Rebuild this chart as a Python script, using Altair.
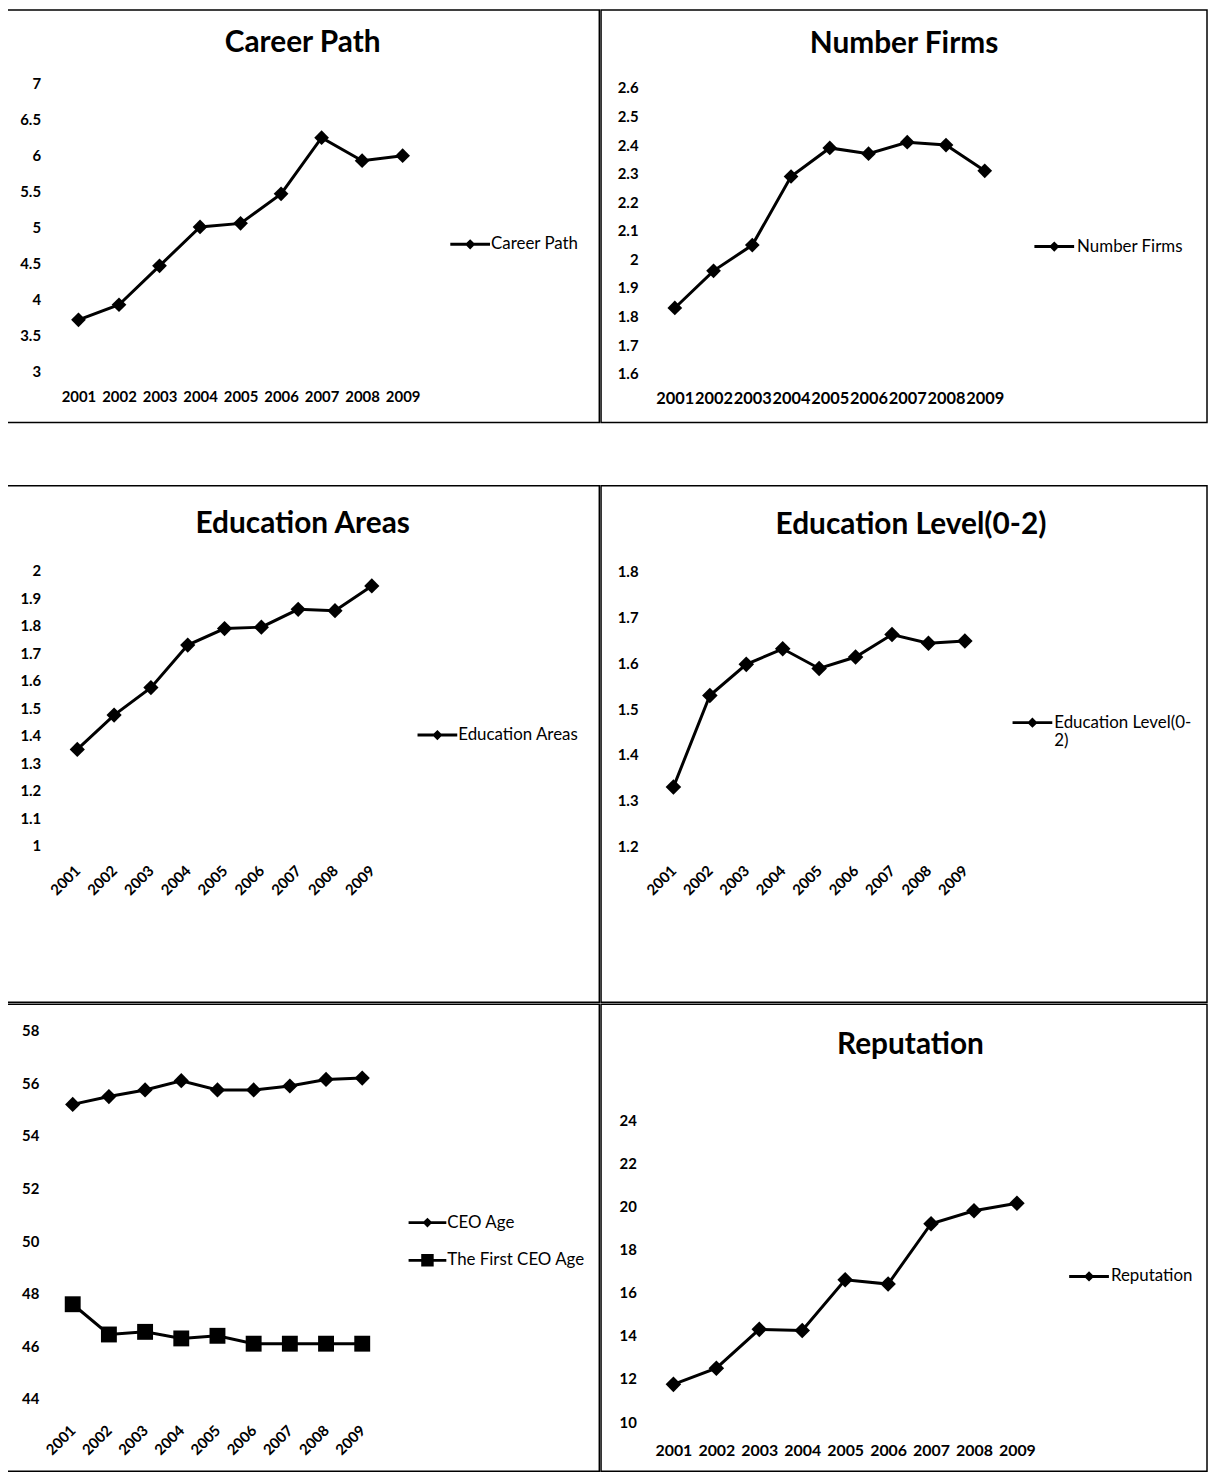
import altair as alt
import pandas as pd

years = [2001, 2002, 2003, 2004, 2005, 2006, 2007, 2008, 2009]

career_path = [3.72, 3.93, 4.47, 5.01, 5.06, 5.47, 6.25, 5.93, 6.00]
number_firms = [1.83, 1.96, 2.05, 2.29, 2.39, 2.37, 2.41, 2.40, 2.31]
education_areas = [1.35, 1.475, 1.575, 1.73, 1.79, 1.795, 1.86, 1.855, 1.945]
education_level = [1.33, 1.53, 1.598, 1.632, 1.589, 1.614, 1.663, 1.644, 1.649]
ceo_age = [55.2, 55.5, 55.75, 56.1, 55.75, 55.75, 55.9, 56.15, 56.2]
first_ceo_age = [47.6, 46.45, 46.55, 46.3, 46.4, 46.1, 46.1, 46.1, 46.1]
reputation = [11.75, 12.5, 14.3, 14.25, 16.6, 16.4, 19.2, 19.8, 20.15]

career_ticks = [3, 3.5, 4, 4.5, 5, 5.5, 6, 6.5, 7]
firms_ticks = [1.6, 1.7, 1.8, 1.9, 2, 2.1, 2.2, 2.3, 2.4, 2.5, 2.6]
areas_ticks = [1, 1.1, 1.2, 1.3, 1.4, 1.5, 1.6, 1.7, 1.8, 1.9, 2]
level_ticks = [1.2, 1.3, 1.4, 1.5, 1.6, 1.7, 1.8]
age_ticks = [44, 46, 48, 50, 52, 54, 56, 58]
rep_ticks = [10, 12, 14, 16, 18, 20, 22, 24]

BAR = "M-1,-0.075L1,-0.075L1,0.075L-1,0.075Z"
LEG_DIAMOND = BAR + " M0,-0.26L0.26,0L0,0.26L-0.26,0Z"
LEG_SQUARE = BAR + " M-0.33,-0.33L0.33,-0.33L0.33,0.33L-0.33,0.33Z"

TITLE_SHIFT = 29


def panel(series, values_list, markers, msizes, leg_paths, width, height,
          xdom, ydom, yticks, yoff, xoff, xangle, xfont,
          title, title_base, title_dx, legx, legy, legoff, symsize,
          label_expr=None, row_pad=0):
    rows = []
    for name, vals in zip(series, values_list):
        for yr, v in zip(years, vals):
            rows.append({"year": yr, "value": v, "series": name})
    df = pd.DataFrame(rows)

    xaxis_kw = dict(values=years, format="d", title=None, grid=False, domain=False,
                    ticks=False, tickSize=0, labelPadding=0, offset=xoff,
                    labelFontSize=xfont, labelOverlap=False, labelFlush=False,
                    labelBaseline="middle", labelFont="Lato", labelFontWeight="bold",
                    labelColor="black")
    if xangle:
        xaxis_kw.update(labelAngle=xangle, labelAlign="right")
    else:
        xaxis_kw.update(labelAngle=0, labelAlign="center")
    x = alt.X("year:Q", scale=alt.Scale(domain=xdom, nice=False, zero=False),
              axis=alt.Axis(**xaxis_kw))
    y = alt.Y("value:Q", scale=alt.Scale(domain=ydom, nice=False, zero=False),
              axis=alt.Axis(values=yticks, format="~g", title=None, grid=False,
                            domain=False, ticks=False, tickSize=0, labelPadding=0,
                            offset=yoff, labelFontSize=15, labelOverlap=False,
                            labelFlush=False, labelFont="Lato",
                            labelFontWeight="bold", labelColor="black"))
    base = alt.Chart(df)
    layers = [base.mark_line(color="black", strokeWidth=3).encode(
        x=x, y=y, detail="series:N")]
    for name, shp, sz in zip(series, markers, msizes):
        layers.append(
            base.transform_filter(alt.datum.series == name)
            .mark_point(filled=True, color="black", opacity=1, shape=shp, size=sz)
            .encode(x=x, y=y)
        )
    leg_kw = dict(title=None, orient="none", legendX=legx, legendY=legy,
                  symbolSize=symsize, labelOffset=legoff, labelFontSize=17,
                  labelFont="Lato", labelColor="black", rowPadding=row_pad, padding=0,
                  labelBaseline="middle", symbolStrokeWidth=0, labelLimit=300)
    if label_expr:
        leg_kw["labelExpr"] = label_expr
    layers.append(
        base.transform_filter("datum.year < 0")
        .mark_point(filled=True, color="black", opacity=1, size=symsize)
        .encode(x=x, y=y,
                shape=alt.Shape("series:N",
                                scale=alt.Scale(domain=series, range=leg_paths),
                                legend=alt.Legend(**leg_kw)))
    )
    props = dict(width=width, height=height,
                 view=alt.ViewBackground(stroke="black", strokeWidth=1.5))
    if title:
        props["title"] = alt.TitleParams(
            text=title, font="Lato", fontSize=30, fontWeight="bold", color="black",
            anchor="middle", frame="group", offset=-(title_base + TITLE_SHIFT),
            baseline="alphabetic", dx=title_dx)
    return alt.layer(*layers).properties(**props)


W1, W2 = 597.25, 610
H1, H2, H3 = 415.25, 520, 470

p1 = panel(["Career Path"], [career_path], ["diamond"], [220], [LEG_DIAMOND],
           W1, H1, [1999.2116, 2013.8536], [2.2966, 8.0241], career_ticks,
           -34.75, -26, 0, 15, "Career Path", 42.95, 0, 447.25, 216, 1, 1600)
p2 = panel(["Number Firms"], [number_firms], ["diamond"], [220], [LEG_DIAMOND],
           W2, H1, [1999.096, 2014.737], [1.4297, 2.873], firms_ticks,
           -37.25, -24, 0, 16.5, "Number Firms", 44.25, 0, 436.25, 218.25, 3, 1600)
p3 = panel(["Education Areas"], [education_areas], ["diamond"], [235], [LEG_DIAMOND],
           W1, H2, [1999.064, 2015.180], [0.4299, 2.3098], areas_ticks,
           -34.95, -135.4, -45, 15, "Education Areas", 49, 0, 414.25, 231, 1, 1600)
p4 = panel(["Education Level(0-2)"], [education_level], ["diamond"], [245], [LEG_DIAMOND],
           W2, H2, [1999.0136, 2015.646], [0.8601, 1.9881], level_ticks,
           -37.25, -135.4, -45, 15, "Education Level(0-2)", 50, 7, 414.25, 218.5, 2, 1600,
           label_expr="['Education Level(0-', '2)']")
p5 = panel(["CEO Age", "The First CEO Age"], [ceo_age, first_ceo_age],
           ["diamond", "square"], [235, 256], [LEG_DIAMOND, LEG_SQUARE],
           W1, H3, [1999.157, 2015.551], [41.2527, 59.0087], age_ticks,
           -33.05, -43.8, -45, 15, None, 0, 0, 405.25, 200.75, 1, 1444, row_pad=11)
p6 = panel(["Reputation"], [reputation], ["diamond"], [245], [LEG_DIAMOND],
           W2, H3, [1999.3146, 2013.427], [7.7264, 29.3754], rep_ticks,
           -35.55, -21, 0, 16, "Reputation", 51, 6.5, 471.25, 254, 2, 1600)


def indep(c):
    return c.resolve_scale(x="independent", y="independent", shape="independent") \
            .resolve_legend(shape="independent")


row1 = indep(alt.hconcat(p1, p2, spacing=0))
row2 = indep(alt.hconcat(p3, p4, spacing=0))
row3 = indep(alt.hconcat(p5, p6, spacing=0))
top = indep(alt.vconcat(row1, row2, spacing=62))
chart = indep(alt.vconcat(top, row3, spacing=0)).properties(
    padding={"left": -3, "top": -4, "right": 0, "bottom": 0}
)
chart = (
    chart.configure_view(stroke="black", strokeWidth=1.5)
    .configure_legend(labelFont="Lato", labelColor="black")
    .configure(background="white")
)

chart.save("out.html", embed_options={"renderer": "svg", "actions": False})
